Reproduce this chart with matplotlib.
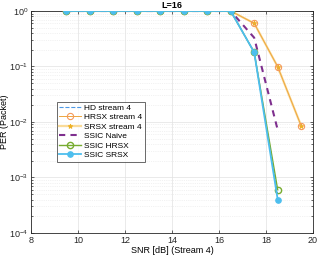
import numpy as np
import matplotlib
matplotlib.use('Agg')
import matplotlib.pyplot as plt
from matplotlib.ticker import LogLocator, NullFormatter

snr = [9.5, 10.5, 11.5, 12.5, 13.5, 14.5, 15.5, 16.5, 17.5, 18.5, 19.5]
hd_stream4 = [1, 1, 1, 1, 1, 1, 1, 1, 0.18, 5.0e-4]
hrsx_stream4 = [1, 1, 1, 1, 1, 1, 1, 1, 0.6, 0.099, 0.0085]
srsx_stream4 = [1, 1, 1, 1, 1, 1, 1, 1, 0.6, 0.099, 0.0085]
ssic_naive = [1, 1, 1, 1, 1, 1, 1, 1, 0.33, 0.0072]
ssic_hrsx = [1, 1, 1, 1, 1, 1, 1, 1, 0.18, 6.0e-4]
ssic_srsx = [1, 1, 1, 1, 1, 1, 1, 1, 0.18, 4.0e-4]

plt.rcParams['font.family'] = ['Liberation Sans', 'DejaVu Sans']
plt.rcParams['font.size'] = 6.5

fig = plt.figure(figsize=(3.19, 2.62), dpi=100)
ax = fig.add_axes([0.097, 0.111, 0.884, 0.847])

ax.semilogy(snr[:len(hd_stream4)], hd_stream4, '--', color=(0.3, 0.6, 0.9), lw=0.8,
            label='HD stream 4')
ax.semilogy(snr, srsx_stream4, '-', color=(0.98, 0.86, 0.6), lw=1.6, marker='*',
            ms=3.5, mfc=(0.93, 0.69, 0.13), mec=(0.93, 0.69, 0.13), mew=0.6,
            zorder=2, label='SRSX stream 4')
ax.semilogy(snr, hrsx_stream4, '-', color=(0.93, 0.65, 0.25), lw=0.7, marker='o',
            ms=4.5, mfc='none', mec=(0.96, 0.6, 0.35), mew=0.8, zorder=3,
            label='HRSX stream 4')
ax.semilogy(snr[:len(ssic_naive)], ssic_naive, '--', color=(0.494, 0.184, 0.556),
            lw=1.5, dashes=(3, 2.5), zorder=4, label='SSIC Naive')
ax.semilogy(snr[:len(ssic_hrsx)], ssic_hrsx, '-', color=(0.466, 0.674, 0.188), lw=1.0,
            marker='o', ms=4.5, mfc='none', mew=1.0, zorder=5, label='SSIC HRSX')
ax.semilogy(snr[:len(ssic_srsx)], ssic_srsx, '-', color=(0.301, 0.745, 0.933), lw=1.3,
            marker='o', ms=3.8, zorder=6, label='SSIC SRSX')

ax.set_xlim(8, 20)
ax.set_ylim(1e-4, 1)
ax.set_xticks(range(8, 21, 2))
ax.yaxis.set_major_locator(LogLocator(base=10, numticks=10))
ax.yaxis.set_minor_locator(LogLocator(base=10, subs=np.arange(2, 10), numticks=10))
ax.yaxis.set_minor_formatter(NullFormatter())
ax.grid(True, which='major', color='#e2e2e2', lw=0.5)
ax.grid(True, which='minor', axis='y', color='#e6e6e6', lw=0.5, linestyle=':')
ax.tick_params(which='both', direction='in', top=True, right=True, length=2.5,
               width=0.5, colors='#262626', labelsize=6.5, pad=2)
ax.tick_params(which='minor', length=1.5)
for s in ax.spines.values():
    s.set_color('#262626')
    s.set_linewidth(0.6)

ax.set_title('L=16', fontsize=6.5, fontweight='bold', pad=2)
ax.set_xlabel('SNR [dB] (Stream 4)', labelpad=1)
ax.set_ylabel('PER (Packet)', labelpad=0)

h, l = ax.get_legend_handles_labels()
order = [0, 2, 1, 3, 4, 5]
leg = ax.legend([h[i] for i in order], [l[i] for i in order],
                loc='lower left', bbox_to_anchor=(0.092, 0.32), fontsize=6,
                frameon=True, fancybox=False, edgecolor='#262626',
                borderpad=0.3, labelspacing=0.2, handlelength=2.6,
                handletextpad=0.4, borderaxespad=0)
leg.get_frame().set_linewidth(0.6)

fig.savefig('out.png', dpi=100)
